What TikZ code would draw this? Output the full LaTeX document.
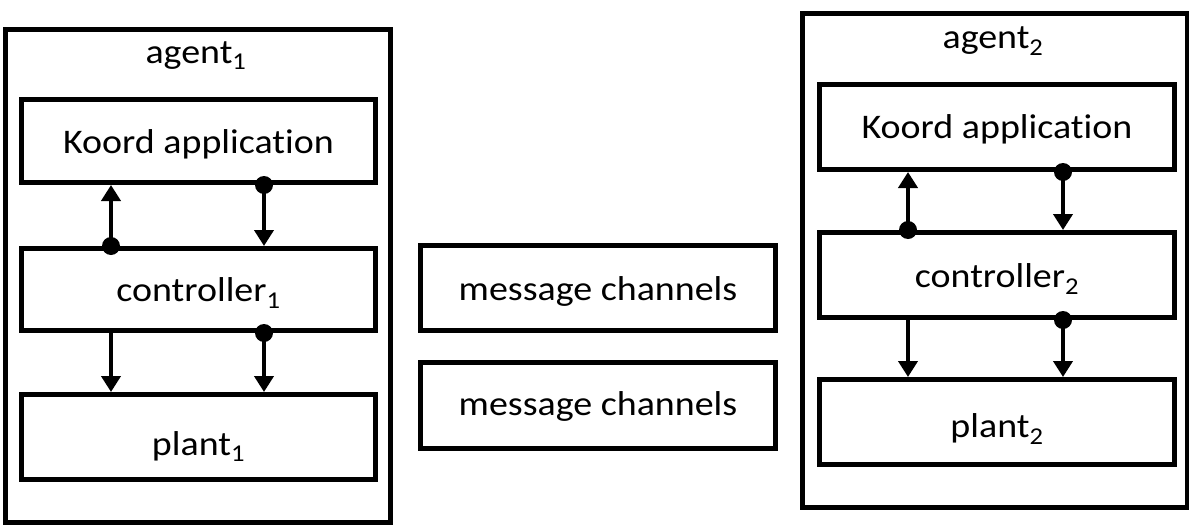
\documentclass[tikz,border=0pt]{standalone}
\usepackage{fontspec}
\setmainfont[FakeStretch=1.1,Ligatures={NoCommon}]{Carlito}
\usetikzlibrary{arrows.meta}
\begin{document}
\begin{tikzpicture}[x=1pt,y=-1pt,
  box/.style={draw,line width=5pt,inner sep=0pt,minimum width=#1,
    font=\fontsize{34.5}{40}\selectfont,text height=24pt,text depth=0pt},
  box/.default=354pt,
  outerbox/.style={draw,line width=5pt,inner sep=0pt},
  lbl/.style={font=\fontsize{34.5}{40}\selectfont,inner sep=0pt},
  conn/.style={line width=4.6pt,-{Triangle[length=16pt,width=19pt]}},
  dot/.style={fill=black}
]
\useasboundingbox (0,0) rectangle (1189,525);
% agent 1
\node[outerbox,minimum width=385.5pt,minimum height=493pt] (ag1) at (197.75,276) {};
\node[lbl,anchor=base] (ag1l) at (196,63) {agent\textsubscript{1}};
\node[box,minimum height=83pt] (app1) at (198.5,141) {Koord application};
\node[box,minimum height=82pt] (ctl1) at (198.5,289.5) {controller\textsubscript{1}};
\node[box,minimum height=85pt,text height=36pt] (pl1) at (198.5,437) {plant\textsubscript{1}};
\coordinate (a1l) at (111,0);
\coordinate (a1r) at (264,0);
\draw[conn] (ctl1.north -| a1l) -- (app1.south -| a1l);
\fill[dot] (ctl1.north -| a1l) circle (9pt);
\draw[conn] (app1.south -| a1r) -- (ctl1.north -| a1r);
\fill[dot] (app1.south -| a1r) circle (9pt);
\draw[conn] (ctl1.south -| a1l) -- (pl1.north -| a1l);
\draw[conn] (ctl1.south -| a1r) -- (pl1.north -| a1r);
\fill[dot] (ctl1.south -| a1r) circle (9pt);
% message channels
\node[box=355pt,minimum height=85pt] (mc1) at (598,288) {message channels};
\node[box=355pt,minimum height=86pt,text height=19pt] (mc2) at (598,405.5) {message channels};
% agent 2
\node[outerbox,minimum width=384.5pt,minimum height=493.5pt] (ag2) at (994.75,260.25) {};
\node[lbl,anchor=base] (ag2l) at (993,48) {agent\textsubscript{2}};
\node[box=355pt,minimum height=85pt,text height=22pt] (app2) at (997,127) {Koord application};
\node[box=355pt,minimum height=85pt] (ctl2) at (997,275) {controller\textsubscript{2}};
\node[box=355pt,minimum height=85pt,text height=30pt] (pl2) at (997,422) {plant\textsubscript{2}};
\coordinate (a2l) at (908,0);
\coordinate (a2r) at (1063,0);
\draw[conn] (ctl2.north -| a2l) -- (app2.south -| a2l);
\fill[dot] (ctl2.north -| a2l) circle (9pt);
\draw[conn] (app2.south -| a2r) -- (ctl2.north -| a2r);
\fill[dot] (app2.south -| a2r) circle (9pt);
\draw[conn] (ctl2.south -| a2l) -- (pl2.north -| a2l);
\draw[conn] (ctl2.south -| a2r) -- (pl2.north -| a2r);
\fill[dot] (ctl2.south -| a2r) circle (9pt);
\end{tikzpicture}
\end{document}
